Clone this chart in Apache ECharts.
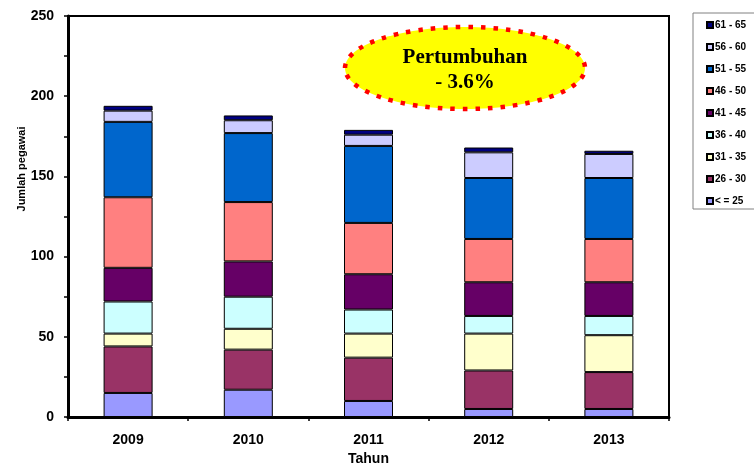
<!DOCTYPE html>
<html>
<head>
<meta charset="utf-8">
<script src="https://cdn.jsdelivr.net/npm/echarts@6/dist/echarts.min.js"></script>
<style>
html,body{margin:0;padding:0;background:#fff;}
#chart{width:754px;height:464px;}
</style>
</head>
<body>
<div id="chart"></div>
<script>
// ---- Data ----
const categories = ['2009', '2010', '2011', '2012', '2013'];
const seriesNames = ['< = 25', '26 - 30', '31 - 35', '36 - 40', '41 - 45', '46 - 50', '51 - 55', '56 - 60', '61 - 65'];
const age25 = [15, 17, 10, 5, 5];
const age26_30 = [29, 25, 27, 24, 23];
const age31_35 = [8, 13, 15, 23, 23];
const age36_40 = [20, 20, 15, 11, 12];
const age41_45 = [21, 22, 22, 21, 21];
const age46_50 = [44, 37, 32, 27, 27];
const age51_55 = [47, 43, 48, 38, 38];
const age56_60 = [7, 8, 7, 16, 15];
const age61_65 = [3, 3, 3, 3, 2];
const yTicks = [0, 50, 100, 150, 200, 250];
const yAxisTitle = 'Jumlah pegawai';
const xAxisTitle = 'Tahun';
const calloutLines = ['Pertumbuhan', '- 3.6%'];

const seriesValues = [age25, age26_30, age31_35, age36_40, age41_45, age46_50, age51_55, age56_60, age61_65];
const colors = ['#9999FF', '#993366', '#FFFFCC', '#CCFFFF', '#660066', '#FF8080', '#0066CC', '#CCCCFF', '#000080'];

const sans = '"Liberation Sans", Arial, sans-serif';
const serif = '"Liberation Serif", "Times New Roman", serif';

const chart = echarts.init(document.getElementById('chart'), null, {renderer: 'canvas'});

const series = seriesNames.map((name, i) => ({
  name: name,
  type: 'bar',
  stack: 'total',
  barWidth: 49,
  data: seriesValues[i],
  itemStyle: {color: colors[i], borderColor: '#000', borderWidth: 1},
  emphasis: {disabled: true},
  animation: false
}));

chart.setOption({
  animation: false,
  backgroundColor: '#fff',
  grid: {left: 68, right: 85, top: 16, bottom: 47, show: true, borderColor: '#000', borderWidth: 2, containLabel: false, outerBoundsMode: 'none'},
  legend: {
    orient: 'vertical',
    left: 693,
    top: 13,
    data: seriesNames.slice().reverse(),
    icon: 'rect',
    itemWidth: 6,
    itemHeight: 6,
    itemGap: 10,
    padding: [6, 30, 2, 13],
    borderColor: '#808080',
    borderWidth: 1,
    backgroundColor: '#fff',
    selectedMode: false,
    textStyle: {fontFamily: sans, fontWeight: 'bold', fontSize: 10, color: '#000', lineHeight: 12, padding: [0, 0, 0, -3]}
  },
  xAxis: [{
    type: 'category',
    data: categories,
    position: 'bottom',
    axisLine: {lineStyle: {color: '#000', width: 3}},
    axisTick: {show: true, length: 4, lineStyle: {color: '#000', width: 1.5}},
    axisLabel: {fontFamily: sans, fontWeight: 'bold', fontSize: 14, color: '#000', margin: 16},
    name: xAxisTitle,
    nameLocation: 'middle',
    nameGap: 33,
    nameTextStyle: {fontFamily: sans, fontWeight: 'bold', fontSize: 14, color: '#000'}
  }, {
    type: 'category',
    data: categories,
    position: 'bottom',
    axisLine: {show: false},
    axisTick: {show: true, inside: true, alignWithLabel: true, length: 3, lineStyle: {color: '#000', width: 2}},
    axisLabel: {show: false}
  }],
  yAxis: {
    type: 'value',
    min: 0,
    max: 250,
    interval: 25,
    axisLine: {show: true, lineStyle: {color: '#000', width: 3}},
    axisTick: {show: true, length: 4, lineStyle: {color: '#000', width: 1.5}},
    splitLine: {show: false},
    axisLabel: {
      fontFamily: sans, fontWeight: 'bold', fontSize: 14, color: '#000', margin: 14,
      formatter: v => (yTicks.indexOf(v) >= 0 ? String(v) : '')
    }
  },
  graphic: [
    {
      type: 'text',
      x: 22, y: 169,
      rotation: Math.PI / 2,
      style: {text: yAxisTitle, fontFamily: sans, fontWeight: 'bold', fontSize: 11, fill: '#000', align: 'center', verticalAlign: 'middle'}
    },
    {
      type: 'ellipse',
      shape: {cx: 465, cy: 68, rx: 120, ry: 41},
      style: {fill: '#FFFF00', stroke: '#FF0000', lineWidth: 4.5, lineDash: [4.5, 8]},
      z: 100
    },
    {
      type: 'text',
      x: 465, y: 70,
      style: {text: calloutLines.join('\n'), fontFamily: serif, fontWeight: 'bold', fontSize: 21, lineHeight: 25, fill: '#000', align: 'center', verticalAlign: 'middle'},
      z: 101
    }
  ],
  series: series
});
</script>
</body>
</html>
